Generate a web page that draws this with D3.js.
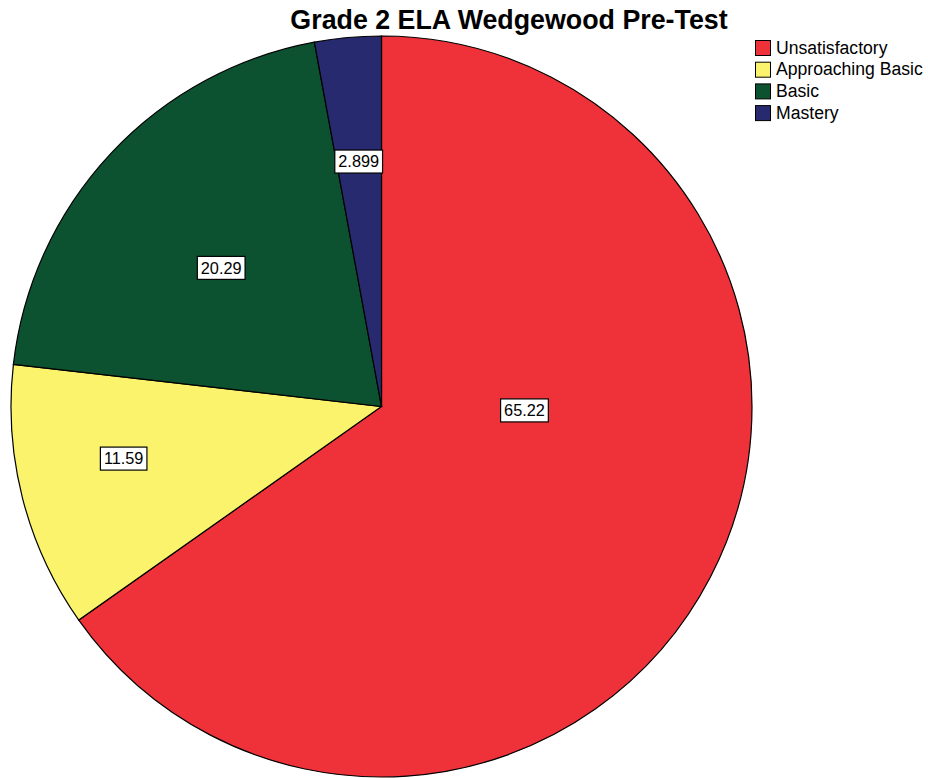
<!DOCTYPE html>
<html><head><meta charset="utf-8">
<script src="https://cdn.jsdelivr.net/npm/d3@7"></script>
<style>body{margin:0;background:#fff}svg{display:block}</style>
</head><body>
<script>
const categories = ["Unsatisfactory", "Approaching Basic", "Basic", "Mastery"];
const values = [65.22, 11.59, 20.29, 2.899];
const labels = ["65.22", "11.59", "20.29", "2.899"];
const colors = ["#EF3239", "#FAF36B", "#0D5230", "#272A6E"];
const title = "Grade 2 ELA Wedgewood Pre-Test";

const W = 928, H = 778;
const svg = d3.select("body").append("svg").attr("width", W).attr("height", H);
const cx = 381.5, cy = 406.5, R = 370.5;
const font = "'Liberation Sans', Arial, sans-serif";

svg.append("text").attr("x", 509).attr("y", 29).attr("text-anchor", "middle")
  .attr("font-family", font).attr("font-weight", "bold").attr("font-size", 26.8)
  .attr("fill", "#000").text(title);

const pie = d3.pie().sort(null).value(d => d).startAngle(0).endAngle(2 * Math.PI);
const arcs = pie(values);
const arc = d3.arc().innerRadius(0).outerRadius(R);
const g = svg.append("g").attr("transform", `translate(${cx},${cy})`);
g.selectAll("path").data(arcs).join("path")
  .attr("d", arc).attr("fill", (d, i) => colors[i])
  .attr("stroke", "#000").attr("stroke-width", 1.2);

// label placement (radius fraction, angle shift in fraction of slice)
const labelLayout = [[0.386, -0.11], [0.71, 0.07], [0.572, -0.03], [0.664, -0.01]];
arcs.forEach((d, i) => {
  const a = (d.startAngle + d.endAngle) / 2 + labelLayout[i][1] * (d.endAngle - d.startAngle);
  const r = R * labelLayout[i][0];
  const x = r * Math.sin(a), y = -r * Math.cos(a);
  const lg = g.append("g").attr("transform", `translate(${x},${y})`);
  const t = lg.append("text").attr("text-anchor", "middle").attr("dy", "0.36em")
    .attr("font-family", font).attr("font-size", 16.3).attr("fill", "#000").text(labels[i]);
  const bb = t.node().getBBox();
  lg.insert("rect", "text").attr("x", bb.x - 3.5).attr("y", -11.5).attr("width", bb.width + 7).attr("height", 23)
    .attr("fill", "#fff").attr("stroke", "#000").attr("stroke-width", 1.2);
});

const leg = svg.append("g").attr("transform", "translate(755,40)");
categories.forEach((c, i) => {
  const row = leg.append("g").attr("transform", `translate(0,${i * 21.7})`);
  row.append("rect").attr("x", 0.5).attr("y", 0.5).attr("width", 15).attr("height", 15)
    .attr("fill", colors[i]).attr("stroke", "#000").attr("stroke-width", 1);
  row.append("text").attr("x", 21).attr("y", 13.5).attr("font-family", font).attr("font-size", 17.6)
    .attr("fill", "#000").text(c);
});
</script>
</body></html>
